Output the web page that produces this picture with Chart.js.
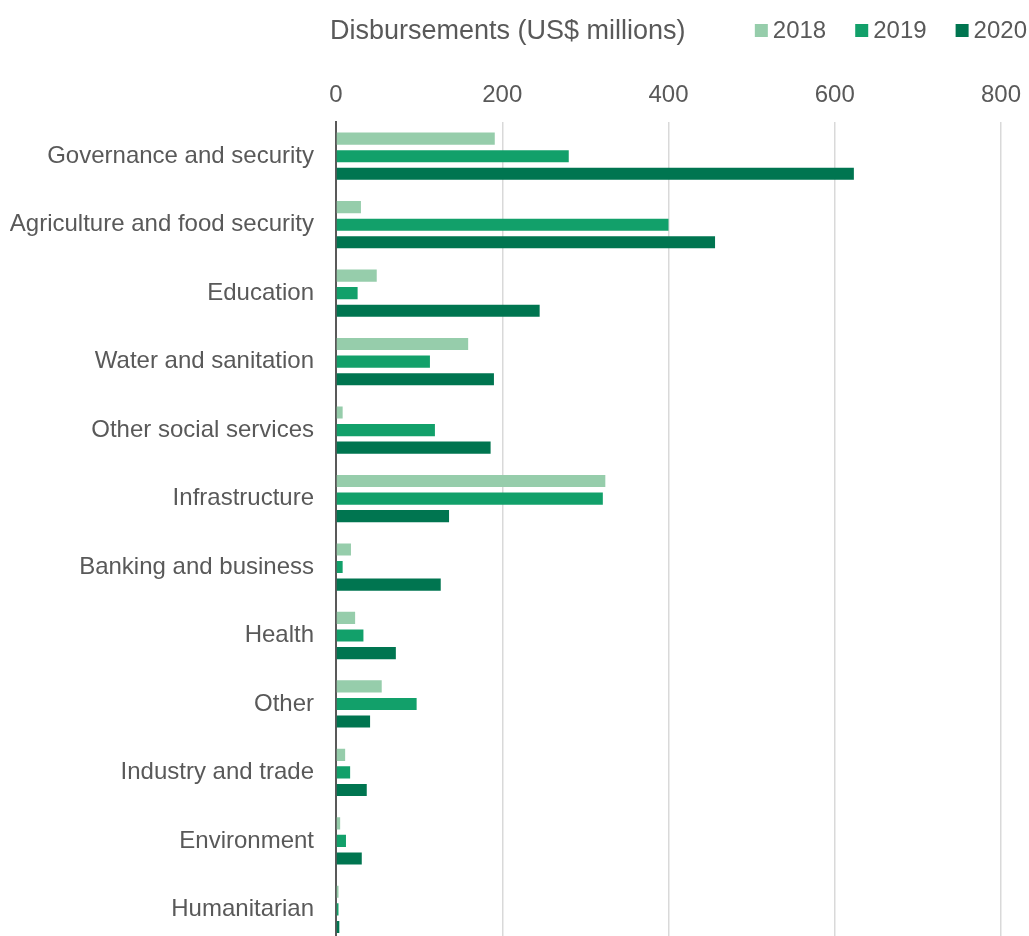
<!DOCTYPE html>
<html>
<head>
<meta charset="utf-8">
<script src="https://cdn.jsdelivr.net/npm/chart.js@4"></script>
<style>
  html, body { margin: 0; padding: 0; background: #fff; overflow: hidden; }
</style>
</head>
<body>
<canvas id="chart" width="1029" height="980"></canvas>
<script>
// Sectors, top to bottom
const sectors = [
    'Governance and security',
    'Agriculture and food security',
    'Education',
    'Water and sanitation',
    'Other social services',
    'Infrastructure',
    'Banking and business',
    'Health',
    'Other',
    'Industry and trade',
    'Environment',
    'Humanitarian'
];

const years = ['2018', '2019', '2020'];

// Disbursements, US$ millions
const values2018 = [191, 30, 49, 159, 8, 324, 18, 23, 55, 11, 5, 3];
const values2019 = [280, 400, 26, 113, 119, 321, 8, 33, 97, 17, 12, 3];
const values2020 = [623, 456, 245, 190, 186, 136, 126, 72, 41, 37, 31, 4];

const xTicks = [0, 200, 400, 600, 800];

const colours = ['#96cdab', '#12a06a', '#007550'];
const textColour = '#595959';
const fontFamily = '"Liberation Sans", Arial, sans-serif';

// Axis title on the left, legend squares on the right, same row
const header = {
    id: 'header',
    afterDraw(chart) {
        const ctx = chart.ctx;
        ctx.save();
        ctx.fillStyle = textColour;
        ctx.textBaseline = 'middle';
        ctx.textAlign = 'left';
        ctx.font = '27px ' + fontFamily;
        ctx.fillText('Disbursements (US$ millions)', 330, 32);

        ctx.font = '24px ' + fontFamily;
        const sets = chart.data.datasets;
        let x = 1027;
        for (let i = sets.length - 1; i >= 0; i--) {
            const w = ctx.measureText(sets[i].label).width;
            x -= w;
            ctx.fillStyle = textColour;
            ctx.fillText(sets[i].label, x, 31);
            x -= 5 + 13;
            ctx.fillStyle = sets[i].backgroundColor;
            ctx.fillRect(x, 24, 13, 13);
            x -= 29;
        }
        ctx.restore();
    }
};

const ctx = document.getElementById('chart').getContext('2d');
const chart = new Chart(ctx, {
    type: 'bar',
    data: {
        labels: sectors,
        datasets: [values2018, values2019, values2020].map((vals, i) => ({
            label: years[i],
            data: vals,
            backgroundColor: colours[i],
            borderWidth: 0,
            categoryPercentage: 0.77,
            barPercentage: 0.69
        }))
    },
    options: {
        indexAxis: 'y',
        responsive: false,
        animation: false,
        layout: {
            padding: { top: 81, left: 10, right: 0, bottom: 2 }
        },
        plugins: {
            legend: { display: false },
            tooltip: { enabled: false }
        },
        scales: {
            x: {
                position: 'top',
                min: 0,
                max: 800,
                afterBuildTicks: axis => {
                    axis.ticks = xTicks.map(v => ({ value: v }));
                },
                afterFit: axis => {
                    axis.height = 41;
                    axis.paddingRight = 28;
                },
                ticks: {
                    color: textColour,
                    font: { family: fontFamily, size: 24 },
                    padding: 12,
                    maxRotation: 0
                },
                grid: {
                    color: '#d9d9d9',
                    lineWidth: 1.5,
                    drawTicks: false
                },
                border: { display: false }
            },
            y: {
                afterFit: axis => { axis.width = 326; },
                ticks: {
                    color: textColour,
                    font: { family: fontFamily, size: 24 },
                    padding: 22,
                    autoSkip: false
                },
                grid: {
                    drawOnChartArea: false,
                    drawTicks: false
                },
                border: { color: '#595959', width: 2 }
            }
        }
    },
    plugins: [header]
});
</script>
</body>
</html>
